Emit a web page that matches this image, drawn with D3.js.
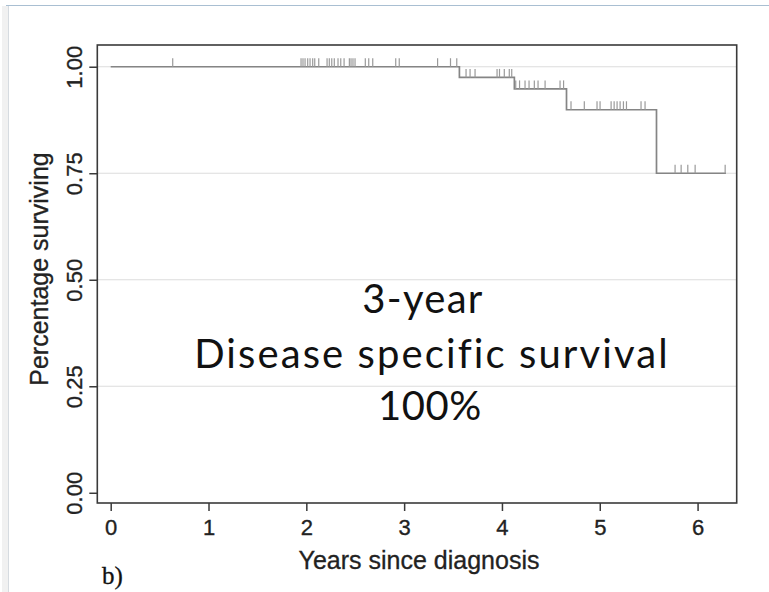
<!DOCTYPE html>
<html><head><meta charset="utf-8">
<script src="https://cdn.jsdelivr.net/npm/d3@7"></script>
<style>
html,body{margin:0;padding:0;background:#fff;}
svg{display:block;}
</style></head>
<body>
<svg id="chart" width="769" height="592"></svg>
<script>
// ---- data ----
const yTicks = [0, 0.25, 0.5, 0.75, 1];
const xTicks = [0, 1, 2, 3, 4, 5, 6];
const eventTimes = [3.565, 4.127, 4.66, 5.58];
const survivalAfter = [0.975, 0.948, 0.899, 0.75];
const endTime = 6.29;
const censorTimes = [
  0.634, 1.946, 1.966, 1.987, 2.014, 2.038, 2.065, 2.086, 2.127, 2.212, 2.235, 2.260,
  2.286, 2.324, 2.352, 2.386, 2.440, 2.457, 2.477, 2.498, 2.603, 2.638, 2.679, 2.914,
  2.950, 3.342, 3.474, 3.538,
  3.633, 3.674, 3.725, 3.950, 3.975, 4.024, 4.075, 4.100,
  4.141, 4.180, 4.236, 4.277, 4.331, 4.369, 4.441, 4.594, 4.630,
  4.706, 4.842, 4.972, 5.003, 5.116, 5.147, 5.177, 5.208, 5.242, 5.273, 5.422, 5.463,
  5.770, 5.832, 5.900, 5.975, 6.282
];
const xLabel = "Years since diagnosis";
const yLabel = "Percentage surviving";
const noteLines = ["3-year", "Disease specific survival", "100%"];
const panelLabel = "b)";

// ---- layout ----
const svg = d3.select("#chart");
const x = d3.scaleLinear().domain([-0.137, 6.40]).range([97.3, 736.7]);
const y = d3.scaleLinear().domain([-0.024, 1.051]).range([503, 45]);
const [fx0, fx1] = x.range();
const [fy1, fy0] = y.range();

// outer slide border
svg.append("rect").attr("x", 2).attr("y", 6).attr("width", 6).attr("height", 586)
  .attr("fill", "#f1f1f1");
svg.append("line").attr("x1", 8.5).attr("x2", 8.5).attr("y1", 5).attr("y2", 592)
  .attr("stroke", "#d6dbe0").attr("stroke-width", 1);
svg.append("line").attr("x1", 6).attr("x2", 769).attr("y1", 5.5).attr("y2", 5.5)
  .attr("stroke", "#a9bfd2").attr("stroke-width", 1.2);

// grid lines
svg.append("g").selectAll("line").data(yTicks.filter(d => d > 0)).join("line")
  .attr("x1", fx0).attr("x2", fx1)
  .attr("y1", d => y(d)).attr("y2", d => y(d))
  .attr("stroke", "#dcdcdc").attr("stroke-width", 1.2);

// survival step line
const pts = [[0, 1]];
let s = 1;
eventTimes.forEach((t, i) => { pts.push([t, s]); s = survivalAfter[i]; pts.push([t, s]); });
pts.push([endTime, s]);
const survAt = t => { let v = 1; eventTimes.forEach((e, i) => { if (t >= e) v = survivalAfter[i]; }); return v; };

svg.append("path")
  .attr("d", d3.line().x(d => x(d[0])).y(d => y(d[1]))(pts))
  .attr("fill", "none").attr("stroke", "#858585").attr("stroke-width", 1.7);

svg.append("g").selectAll("line").data(censorTimes).join("line")
  .attr("x1", d => x(d)).attr("x2", d => x(d))
  .attr("y1", d => y(survAt(d))).attr("y2", d => y(survAt(d)) - 8.5)
  .attr("stroke", "#9a9a9a").attr("stroke-width", 1.2);

// frame
svg.append("rect").attr("x", fx0).attr("y", fy0).attr("width", fx1 - fx0).attr("height", fy1 - fy0)
  .attr("fill", "none").attr("stroke", "#3a3a3a").attr("stroke-width", 1.6);

// axes
const axFont = "'Liberation Sans', Arial, sans-serif";
const gy = svg.append("g").attr("transform", `translate(${fx0},0)`)
  .call(d3.axisLeft(y).tickValues(yTicks).tickFormat(d3.format(".2f")).tickSize(8).tickSizeOuter(0));
gy.select(".domain").remove();
gy.selectAll(".tick line").attr("stroke", "#3a3a3a").attr("stroke-width", 1.5);
gy.selectAll(".tick text")
  .attr("transform", "rotate(-90)").attr("text-anchor", "middle")
  .attr("x", 0).attr("y", -15.5).attr("dy", 0)
  .attr("font-family", axFont).attr("font-size", 22).attr("fill", "#222")
  .attr("stroke", "#222").attr("stroke-width", 0.35);

const gx = svg.append("g").attr("transform", `translate(0,${fy1})`)
  .call(d3.axisBottom(x).tickValues(xTicks).tickFormat(d3.format("d")).tickSize(8).tickSizeOuter(0));
gx.select(".domain").remove();
gx.selectAll(".tick text").attr("y", 32).attr("dy", 0)
  .attr("font-family", axFont).attr("font-size", 22).attr("fill", "#222")
  .attr("stroke", "#222").attr("stroke-width", 0.35);
gx.selectAll(".tick line").attr("stroke", "#3a3a3a").attr("stroke-width", 1.5);

// axis titles
svg.append("text").attr("x", 419).attr("y", 569)
  .attr("text-anchor", "middle").attr("font-family", axFont).attr("font-size", 25)
  .attr("fill", "#222").attr("stroke", "#222").attr("stroke-width", 0.3).text(xLabel);
svg.append("text").attr("transform", `translate(48,269) rotate(-90)`)
  .attr("text-anchor", "middle").attr("font-family", axFont).attr("font-size", 25)
  .attr("fill", "#222").attr("stroke", "#222").attr("stroke-width", 0.3).text(yLabel);

// annotation
const noteY = [313, 368, 420];
const noteX = [423, 432, 430];
const noteSpacing = [1.3, 2.1, 0.6];
svg.append("g").selectAll("text").data(noteLines).join("text")
  .attr("x", (d, i) => noteX[i]).attr("y", (d, i) => noteY[i])
  .attr("text-anchor", "middle").attr("font-family", "Lato, 'Open Sans', sans-serif")
  .attr("font-size", 40).attr("letter-spacing", (d, i) => noteSpacing[i])
  .attr("fill", "#111").text(d => d);

// panel label
svg.append("text").attr("x", 102).attr("y", 584)
  .attr("font-family", "'Liberation Serif', 'Times New Roman', serif")
  .attr("font-size", 25).attr("fill", "#111").attr("stroke", "#111").attr("stroke-width", 0.3)
  .text(panelLabel);
</script>
</body></html>
